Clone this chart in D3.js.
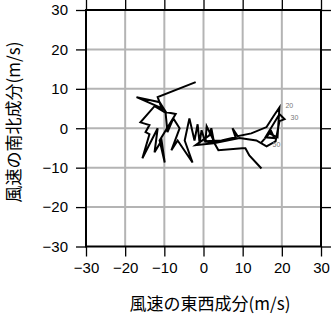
<!DOCTYPE html>
<html><head><meta charset="utf-8">
<script src="https://cdn.jsdelivr.net/npm/d3@7"></script>
<style>body{margin:0;background:#fff}svg{display:block}</style>
</head><body>
<script>
// wind components (m/s)
const uWind = [14.8,11.7,10.7,9.9,3.8,2.8,0.3,4.6,8.2,7.4,8.7,12.2,16.1,17.9,19.4,19.1,18.9,16.8,14.8,17.3,18.1,15.8,19.4,20.7,19.4,18.4,16.1,13.5,9.2,2.6,-2.0,
  1.5,2.0,2.6,0.8,0.5,-0.5,-1.0,-1.5,-2.3,-3.6,-4.8,-2.8,-6.6,-8.2,-6.1,-7.7,-9.2,-9.7,-7.1,-11.2,-9.9,-10.7,-12.5,-11.7,-15.6,-13.8,-14.8,-13.8,-16.1,-12.5,-9.4,-11.2,-17.1,-10.7,-11.7,-2.0];
const vWind = [-10.2,-6.9,-5.1,-5.1,-5.6,-3.8,-3.3,-3.1,-2.3,0.0,-2.0,-1.3,0.3,3.1,5.3,0.8,-2.3,-1.3,-3.6,-0.8,-2.5,-2.3,3.6,2.3,1.8,-3.3,-4.6,-3.1,-2.5,-3.8,-4.3,
  -1.8,0.0,-3.1,0.5,-3.6,-0.5,-3.8,1.0,-3.1,2.5,-3.1,-8.7,-3.1,-5.6,0.0,2.5,-1.0,4.1,3.6,-3.1,-8.7,-3.1,-6.1,0.0,-7.6,-1.5,-1.0,0.8,1.5,5.6,3.8,6.6,7.9,5.1,7.9,11.7];
const pointLabels = [{i:14, text:"20"},{i:23, text:"30"},{i:26, text:"50"}];
const ticks = [-30,-20,-10,0,10,20,30];
const xTitle = "風速の東西成分(m/s)";
const yTitle = "風速の南北成分(m/s)";

const W=331,H=318;
const svg=d3.select("body").append("svg").attr("width",W).attr("height",H);
const x=d3.scaleLinear().domain([-30,30]).range([86,321]);
const y=d3.scaleLinear().domain([-30,30]).range([246.5,10]);
const fmt=d=>d<0?"\u2212"+Math.abs(d):String(d);
const tickFont="'Liberation Sans', Arial, sans-serif";

// grid
svg.append("g").selectAll("line").data(ticks.slice(1,-1)).join("line")
  .attr("x1",d=>x(d)).attr("x2",d=>x(d)).attr("y1",y(30)).attr("y2",y(-30))
  .attr("stroke","#b4b4b4").attr("stroke-width",2);
svg.append("g").selectAll("line").data(ticks.slice(1,-1)).join("line")
  .attr("y1",d=>y(d)).attr("y2",d=>y(d)).attr("x1",x(-30)).attr("x2",x(30))
  .attr("stroke","#b4b4b4").attr("stroke-width",2);

// axes
function styleAxis(g){
  g.select(".domain").remove();
  g.selectAll(".tick line").attr("stroke","#000").attr("stroke-width",1.3);
  g.selectAll(".tick text").attr("font-family",tickFont).attr("font-size",15).attr("fill","#000");
}
svg.append("g").attr("transform",`translate(0,${y(-30)})`)
  .call(d3.axisBottom(x).tickValues(ticks).tickFormat(fmt).tickSize(10).tickPadding(6)).call(styleAxis);
svg.append("g").attr("transform",`translate(${x(-30)},0)`)
  .call(d3.axisLeft(y).tickValues(ticks).tickFormat(fmt).tickSize(10).tickPadding(8)).call(styleAxis);
svg.append("g").attr("transform",`translate(0,${y(30)})`)
  .call(d3.axisTop(x).tickValues(ticks).tickFormat("").tickSize(10)).call(styleAxis);
svg.append("g").attr("transform",`translate(${x(30)},0)`)
  .call(d3.axisRight(y).tickValues(ticks).tickFormat("").tickSize(10)).call(styleAxis);

// frame
svg.append("rect").attr("x",x(-30)).attr("y",y(30)).attr("width",x(30)-x(-30)).attr("height",y(-30)-y(30))
  .attr("fill","none").attr("stroke","#000").attr("stroke-width",2);

// hodograph line
const pts=uWind.map((u,i)=>[u,vWind[i]]);
svg.append("path").datum(pts)
  .attr("d",d3.line().x(d=>x(d[0])).y(d=>y(d[1])))
  .attr("fill","none").attr("stroke","#000").attr("stroke-width",2).attr("stroke-linejoin","miter");

svg.append("g").selectAll("text").data(pointLabels).join("text")
  .attr("x",d=>x(uWind[d.i])+6).attr("y",d=>y(vWind[d.i])+1)
  .attr("font-family",tickFont).attr("font-size",7).attr("fill","#777").text(d=>d.text);

// titles
const cjk="'Noto Sans CJK JP', 'Noto Sans', sans-serif";
svg.append("text").attr("x",210).attr("y",310).attr("text-anchor","middle")
  .attr("font-family",cjk).attr("font-size",17).text(xTitle);
svg.append("text").attr("transform","translate(20,122) rotate(-90)").attr("text-anchor","middle")
  .attr("font-family",cjk).attr("font-size",17).text(yTitle);
</script>
</body></html>
